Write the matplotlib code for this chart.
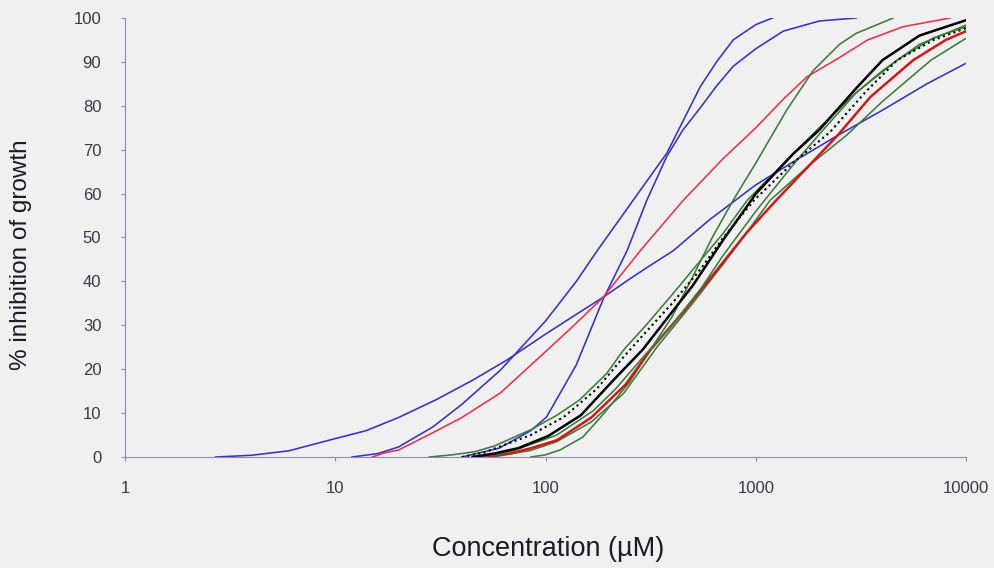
import matplotlib.pyplot as plt

# concentration (uM) / % inhibition
blue_shallow_x = [2.7, 4, 6, 10, 14, 20, 30, 45, 65, 100, 140, 188, 250, 300, 405, 600, 800, 1000, 1600, 2500, 4000, 6500, 10000]
blue_shallow_y = [0, 0.4, 1.4, 4.2, 6, 9, 13, 17.5, 22, 28, 32.5, 36.4, 40.5, 43, 47, 54, 58.5, 62, 68, 73.5, 79, 85, 89.7]

blue_mid_x = [12, 16, 20, 29, 40, 61, 100, 140, 176, 261, 377, 450, 543, 650, 780, 1000, 1200]
blue_mid_y = [0, 0.8, 2.3, 6.8, 12, 19.8, 31, 40, 47, 58.5, 69.2, 76.5, 84.3, 90, 95, 98.5, 100]

blue_steep_x = [40, 60, 85, 101, 140, 188, 244, 303, 377, 450, 543, 650, 780, 1000, 1350, 2000, 3000]
blue_steep_y = [0, 2, 6, 9.1, 21, 36, 47, 58.5, 68.5, 74.5, 79.5, 84.5, 89, 93, 97, 99.3, 100]

red_thin_x = [15, 17, 20, 29, 40, 61, 100, 140, 188, 282, 452, 700, 1000, 1350, 1750, 2500, 3400, 5000, 8400]
red_thin_y = [0, 0.9, 1.6, 5.5, 9, 14.6, 24, 30.5, 36.4, 47, 58.5, 68, 75, 81.5, 86.6, 91, 95, 98, 100]

green_steep_x = [85, 100, 117, 150, 183, 250, 315, 400, 500, 620, 780, 1000, 1400, 1870, 2500, 3000, 4500]
green_steep_y = [0, 0.5, 1.6, 4.5, 9.1, 17, 24.4, 32, 41, 50, 58.5, 67, 79, 88, 94, 96.5, 100]

green_a_x = [28, 36, 46, 57, 85, 113, 145, 195, 235, 300, 400, 550, 700, 910, 1300, 2000, 3000, 4000, 6000, 10000]
green_a_y = [0, 0.5, 1.2, 2.5, 6.2, 9.5, 13, 19, 24.4, 30, 37, 45, 51, 58.5, 66, 75, 83, 88, 94, 98.4]

dotted_x = [40, 51, 60, 85, 122, 175, 235, 300, 400, 550, 700, 980, 1500, 2250, 3300, 4700, 7000, 10000]
dotted_y = [0, 1, 2.3, 5, 9.1, 15.5, 22.8, 28.5, 35, 43, 50, 58.5, 67, 74, 83, 90.4, 95, 97.7]

black_x = [45, 57, 74, 103, 147, 210, 290, 377, 500, 700, 1000, 1500, 2000, 3000, 4000, 6000, 10000]
black_y = [0, 0.8, 2, 4.8, 9.5, 17.5, 24.5, 31.5, 39, 49.5, 60, 69, 74.5, 84, 90.4, 96, 99.5]

green_b_x = [48, 68, 113, 168, 215, 300, 400, 550, 700, 1000, 1500, 2000, 3000, 4700, 7000, 10000]
green_b_y = [0, 1.2, 5, 10.5, 15.5, 23.5, 30, 38.5, 46, 56, 66.5, 73.5, 83, 90.4, 95.5, 98]

red_thick_x = [50, 68, 85, 113, 165, 240, 315, 450, 650, 900, 1250, 1800, 2450, 3500, 5600, 8000, 10000]
red_thick_y = [0, 0.8, 2, 3.8, 9, 16.5, 24.4, 33, 42.5, 51, 58.5, 66.5, 73.3, 82, 90.4, 95, 97]

green_c_x = [56, 85, 113, 165, 235, 338, 500, 700, 900, 1170, 1800, 2700, 4000, 6800, 10000]
green_c_y = [0, 1.5, 3.5, 8, 14.5, 25, 35, 44, 51, 58.5, 66.5, 73.3, 81, 90.4, 95.4]

xticks = [1, 10, 100, 1000, 10000]
yticks = [0, 10, 20, 30, 40, 50, 60, 70, 80, 90, 100]

plt.rcParams['font.family'] = ['Liberation Sans', 'DejaVu Sans']

fig = plt.figure(figsize=(9.95, 5.68), dpi=100, facecolor='#f0f0f0')
ax = fig.add_axes([0.1256, 0.1954, 0.8455, 0.773], facecolor='#f0f0f0')

blue = '#3232c8'
green = '#3a7d3a'
thin = 1.15
ax.plot(blue_shallow_x, blue_shallow_y, color=blue, lw=thin)
ax.plot(blue_mid_x, blue_mid_y, color=blue, lw=thin)
ax.plot(blue_steep_x, blue_steep_y, color=blue, lw=thin)
ax.plot(red_thin_x, red_thin_y, color='#e8304e', lw=thin)
ax.plot(green_steep_x, green_steep_y, color=green, lw=thin)
ax.plot(green_a_x, green_a_y, color=green, lw=thin)
ax.plot(green_c_x, green_c_y, color=green, lw=thin)
ax.plot(red_thick_x, red_thick_y, color='#d01818', lw=1.8)
ax.plot(green_b_x, green_b_y, color=green, lw=thin)
ax.plot(dotted_x, dotted_y, color='black', lw=1.5, ls=':')
ax.plot(black_x, black_y, color='black', lw=1.8)

ax.set_xscale('log')
ax.set_xlim(1, 10000)
ax.set_ylim(0, 100)
ax.set_xticks(xticks)
ax.set_xticklabels([str(t) for t in xticks])
ax.xaxis.set_minor_locator(plt.NullLocator())
ax.set_yticks(yticks)

for s in ['top', 'right']:
    ax.spines[s].set_visible(False)
for s in ['left', 'bottom']:
    ax.spines[s].set_color('#8c8cb0')
    ax.spines[s].set_linewidth(0.8)
ax.tick_params(direction='out', length=3, width=0.8, color='#8c8cb0',
               labelsize=12, labelcolor='#383848', pad=14)

ax.set_xlabel('Concentration (µM)', fontsize=19.5, color='#1a1a28', va='center')
ax.xaxis.set_label_coords(0.503, -0.21)
ax.set_ylabel('% inhibition of growth', fontsize=17.5, color='#1a1a28', va='center')
ax.yaxis.set_label_coords(-0.124, 0.46)

fig.savefig('out.png', dpi=100, facecolor=fig.get_facecolor())
